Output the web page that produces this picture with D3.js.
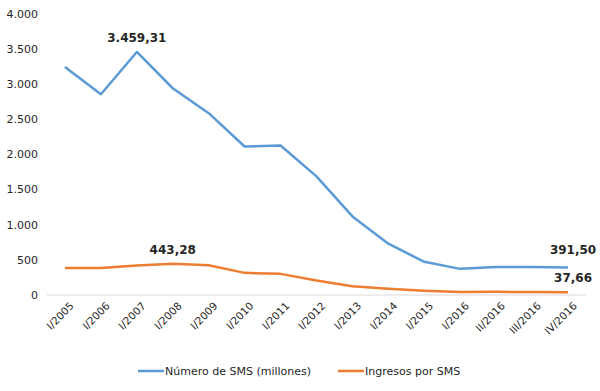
<!DOCTYPE html>
<html>
<head>
<meta charset="utf-8">
<script src="https://cdn.jsdelivr.net/npm/d3@7"></script>
<style>
  body { margin: 0; background: #fff; }
  svg text { font-family: "DejaVu Sans", Verdana, sans-serif; fill: #262626; }
</style>
</head>
<body>
<div id="chart"></div>
<script>
// categories and the two series
var periods = ['I/2005', 'I/2006', 'I/2007', 'I/2008', 'I/2009', 'I/2010', 'I/2011', 'I/2012',
               'I/2013', 'I/2014', 'I/2015', 'I/2016', 'II/2016', 'III/2016', 'IV/2016'];
var smsCount = [3245, 2858, 3459.31, 2943, 2588, 2114, 2128, 1688, 1119, 730, 472, 372, 400, 400, 391.50];
var smsIncome = [386, 386, 419, 443.28, 423, 315, 301, 206, 125, 88, 60, 42, 45, 43, 37.66];
var yTicks = [0, 500, 1000, 1500, 2000, 2500, 3000, 3500, 4000];
var seriesNames = ['Número de SMS (millones)', 'Ingresos por SMS'];

var W = 600, H = 391;
var margin = {left: 47, right: 14, top: 14, bottom: 96};

var svg = d3.select('#chart').append('svg')
    .attr('width', W)
    .attr('height', H);

var x = d3.scalePoint()
    .domain(periods)
    .range([margin.left, W - margin.right])
    .padding(0.5);

var y = d3.scaleLinear()
    .domain([0, 4000])
    .range([H - margin.bottom, margin.top]);

// es-ES style numbers: dot thousands, comma decimals
var fmt = d3.formatLocale({decimal: ',', thousands: '.', grouping: [3], currency: ['', '']});
var fmtInt = fmt.format(',.0f');
var fmt2 = fmt.format(',.2f');

// y axis labels only, no gridlines
svg.append('g').selectAll('text')
    .data(yTicks).enter()
    .append('text')
      .attr('x', 38)
      .attr('y', function(d) { return y(d); })
      .attr('dy', '0.35em')
      .attr('text-anchor', 'end')
      .style('font-size', '11px')
      .text(function(d) { return fmtInt(d); });

// baseline
svg.append('line')
    .attr('x1', margin.left)
    .attr('x2', W - margin.right)
    .attr('y1', y(0))
    .attr('y2', y(0))
    .attr('stroke', '#d9d9d9')
    .attr('stroke-width', 1);

// category labels, rotated
svg.append('g').selectAll('text')
    .data(periods).enter()
    .append('text')
      .attr('transform', function(d) { return 'translate(' + (x(d) + 7) + ',' + (y(0) + 9) + ') rotate(-45)'; })
      .attr('text-anchor', 'end')
      .attr('dy', '0.35em')
      .style('font-size', '10.5px')
      .text(function(d) { return d; });

var line = d3.line()
    .x(function(d, i) { return x(periods[i]); })
    .y(function(d) { return y(d); });

var colors = ['#5b9bd5', '#ed7d31'];

svg.selectAll('path.series')
    .data([smsCount, smsIncome]).enter()
    .append('path')
      .attr('class', 'series')
      .attr('d', line)
      .attr('fill', 'none')
      .attr('stroke', function(d, i) { return colors[i]; })
      .attr('stroke-width', 2.5)
      .attr('stroke-linejoin', 'round');

// data labels
var labels = [
  {series: smsCount, i: 2, dy: -10},
  {series: smsCount, i: 14, dy: -13},
  {series: smsIncome, i: 3, dy: -10},
  {series: smsIncome, i: 14, dy: -10}
];

svg.append('g').selectAll('text')
    .data(labels).enter()
    .append('text')
      .attr('x', function(d) { return x(periods[d.i]) + (d.i === 14 ? 5 : 0); })
      .attr('y', function(d) { return y(d.series[d.i]) + d.dy; })
      .attr('text-anchor', 'middle')
      .style('font-size', '12px')
      .style('font-weight', 'bold')
      .text(function(d) { return fmt2(d.series[d.i]); });

// legend
var legend = svg.append('g').selectAll('g')
    .data(seriesNames).enter()
    .append('g')
      .attr('transform', function(d, i) { return 'translate(' + (i ? 338 : 138) + ',371)'; });

legend.append('line')
    .attr('x1', 0).attr('x2', 26)
    .attr('stroke', function(d, i) { return colors[i]; })
    .attr('stroke-width', 2.5);

legend.append('text')
    .attr('x', 27)
    .attr('dy', '0.35em')
    .style('font-size', '11px')
    .text(function(d) { return d; });
</script>
</body>
</html>
